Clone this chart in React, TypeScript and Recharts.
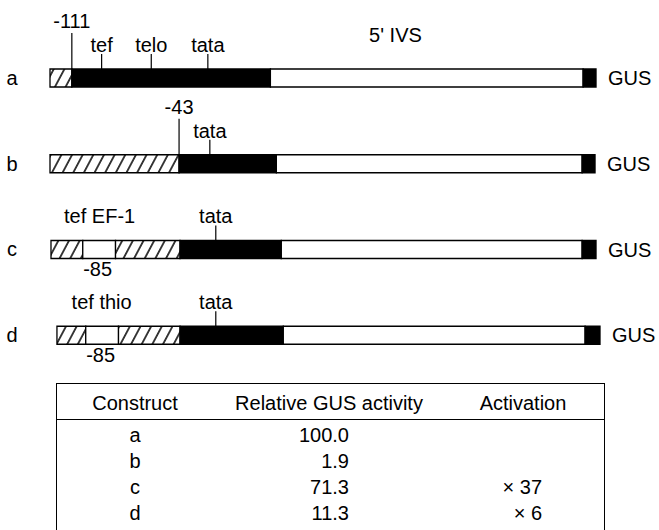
import { Bar, BarChart, LabelList, ReferenceDot, XAxis, YAxis } from "recharts";

// constructs, top to bottom
const rows = ["a", "b", "c", "d"];

// segment lengths along each construct (map units), left to right
const lead = [0, 0, 1, 7];
const hatch1 = [22, 130, 32, 29];
const insert = [0, 0, 33, 33];
const hatch2 = [0, 0, 65, 62];
const promoter = [200, 98, 102, 104];
const intron = [315, 308, 303, 304];
const gus = [13, 13, 14, 15];
const reporter = ["GUS", "GUS", "GUS", "GUS"];

// annotated sites
const siteRow = ["a", "a", "a", "a", "a", "b", "b", "c", "c", "c", "d", "d", "d"];
const sitePos = [22, 52, 102, 159, 348, 130, 161, 50, 48, 167, 52, 51, 167];
const siteLabel = ["-111", "tef", "telo", "tata", "5' IVS", "-43", "tata", "tef EF-1", "-85", "tata", "tef thio", "-85", "tata"];
const siteKind = ["cut", "site", "site", "site", "title", "cut", "site", "region", "below", "site", "region", "below", "site"];

// table
const tableConstructs = ["a", "b", "c", "d"];
const activity = [100.0, 1.9, 71.3, 11.3];
const activation = [null, null, 37, 6];

const FONT = "'Liberation Sans', Arial, Helvetica, sans-serif";
const BAR = 18;

const data = rows.map((row, i) => ({
  row,
  lead: lead[i],
  hatch1: hatch1[i],
  insert: insert[i],
  hatch2: hatch2[i],
  promoter: promoter[i],
  intron: intron[i],
  gus: gus[i],
  reporter: reporter[i],
}));

const markStyle: Record<string, { tick: number; gap: number }> = {
  cut: { tick: 36, gap: 5 },
  site: { tick: 15, gap: 2 },
  region: { tick: 0, gap: 17 },
  title: { tick: 0, gap: 27 },
};

function siteShape(label: string, kind: string) {
  return (props: any) => {
    const { cx, cy } = props;
    const top = cy - BAR / 2;
    if (kind === "below") {
      return (
        <text x={cx} y={cy + BAR / 2 + 18} textAnchor="middle" fontSize={20} fontFamily={FONT} fill="#000">
          {label}
        </text>
      );
    }
    const s = markStyle[kind];
    return (
      <g>
        {s.tick > 0 && <line x1={cx} y1={top} x2={cx} y2={top - s.tick} stroke="#000" strokeWidth={1.2} />}
        <text x={cx} y={top - s.tick - s.gap} textAnchor="middle" fontSize={20} fontFamily={FONT} fill="#000">
          {label}
        </text>
      </g>
    );
  };
}

const RowTick = ({ x, y, payload }: any) => (
  <text x={x - 30} y={y} dy="0.355em" textAnchor="middle" fontSize={20} fontFamily={FONT} fill="#000">
    {payload.value}
  </text>
);

const segStroke = { stroke: "#000", strokeWidth: 1.3 };

function Table() {
  const cell = { position: "absolute" as const, lineHeight: "26px", fontSize: 20, whiteSpace: "nowrap" as const };
  return (
    <div
      style={{
        position: "absolute",
        left: 56,
        top: 383,
        width: 547,
        height: 160,
        borderTop: "1px solid #000",
        borderLeft: "1px solid #000",
        borderRight: "1px solid #000",
      }}
    >
      <div style={{ position: "absolute", left: 0, right: 0, top: 35, borderTop: "1px solid #000" }} />
      <div style={{ ...cell, left: 0, width: 156, top: 6, textAlign: "center" }}>Construct</div>
      <div style={{ ...cell, left: 172, width: 200, top: 6, textAlign: "center" }}>Relative GUS activity</div>
      <div style={{ ...cell, left: 396, width: 140, top: 6, textAlign: "center" }}>Activation</div>
      {tableConstructs.map((c, i) => (
        <div key={c}>
          <div style={{ ...cell, left: 0, width: 156, top: 38 + i * 26, textAlign: "center" }}>{c}</div>
          <div style={{ ...cell, left: 192, width: 100, top: 38 + i * 26, textAlign: "right" }}>
            {activity[i].toFixed(1)}
          </div>
          <div style={{ ...cell, left: 385, width: 100, top: 38 + i * 26, textAlign: "right" }}>
            {activation[i] == null ? "" : `× ${activation[i]}`}
          </div>
        </div>
      ))}
    </div>
  );
}

export default function App() {
  return (
    <div
      style={{
        position: "absolute",
        left: 0,
        top: 0,
        width: 659,
        height: 530,
        overflow: "hidden",
        background: "#fff",
        fontFamily: FONT,
        color: "#000",
      }}
    >
      <BarChart
        width={659}
        height={380}
        data={data}
        layout="vertical"
        margin={{ top: 35, right: 59, bottom: 2, left: 8 }}
        barSize={BAR}
      >
        <defs>
          <pattern id="hatch" patternUnits="userSpaceOnUse" width={9.4} height={9.4} patternTransform="rotate(28)">
            <rect width={9.4} height={9.4} fill="#fff" />
            <line x1={4.7} y1={0} x2={4.7} y2={9.4} stroke="#000" strokeWidth={1.5} />
          </pattern>
        </defs>
        <XAxis type="number" domain={[0, 550]} hide />
        <YAxis type="category" dataKey="row" width={42} axisLine={false} tickLine={false} tick={<RowTick />} />
        <Bar dataKey="lead" stackId="c" fill="none" stroke="none" isAnimationActive={false} />
        <Bar dataKey="hatch1" stackId="c" fill="url(#hatch)" {...segStroke} isAnimationActive={false} />
        <Bar dataKey="insert" stackId="c" fill="#fff" {...segStroke} isAnimationActive={false} />
        <Bar dataKey="hatch2" stackId="c" fill="url(#hatch)" {...segStroke} isAnimationActive={false} />
        <Bar dataKey="promoter" stackId="c" fill="#000" {...segStroke} isAnimationActive={false} />
        <Bar dataKey="intron" stackId="c" fill="#fff" {...segStroke} isAnimationActive={false} />
        <Bar dataKey="gus" stackId="c" fill="#000" {...segStroke} isAnimationActive={false}>
          <LabelList dataKey="reporter" position="right" offset={12} fill="#000" fontSize={20} fontFamily={FONT} />
        </Bar>
        {sitePos.map((pos, i) => (
          <ReferenceDot
            key={i}
            x={pos}
            y={siteRow[i]}
            r={0}
            ifOverflow="visible"
            shape={siteShape(siteLabel[i], siteKind[i])}
          />
        ))}
      </BarChart>
      <Table />
    </div>
  );
}
